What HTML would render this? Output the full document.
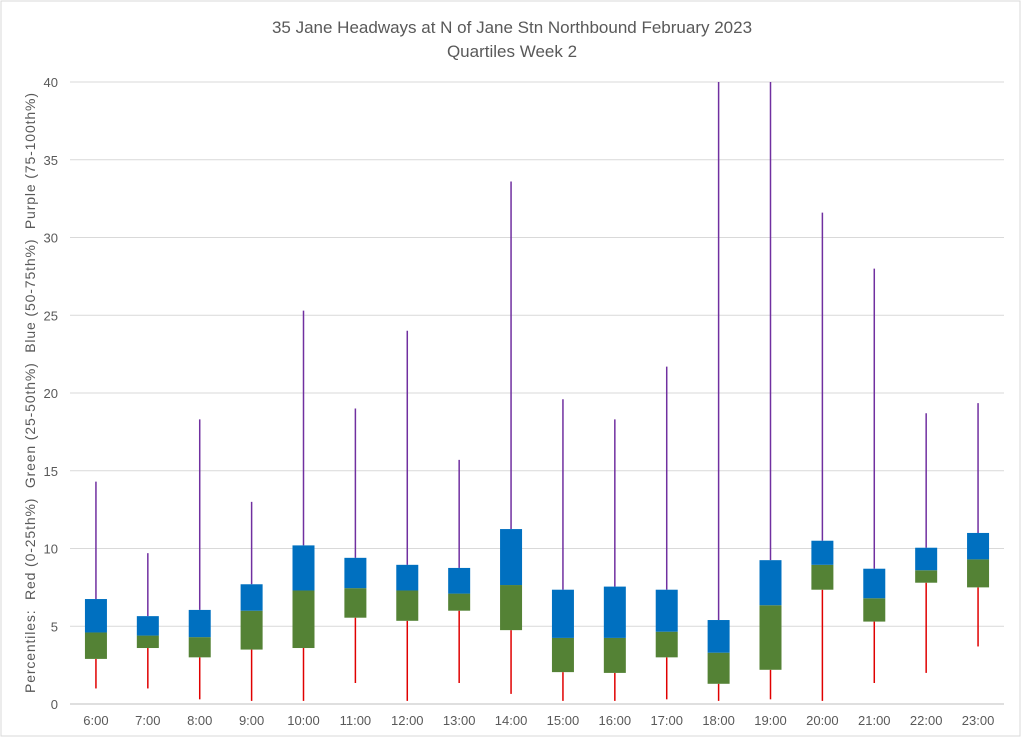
<!DOCTYPE html>
<html><head><meta charset="utf-8">
<style>
html,body{margin:0;padding:0;background:#fff;}
svg{display:block;font-family:"Liberation Sans",sans-serif;}
</style></head>
<body>
<svg id="chart" width="1024" height="740">
<rect x="1" y="1" width="1019" height="735" fill="#fff" stroke="#d9d9d9"/>
<text x="512" y="33" text-anchor="middle" font-size="17" fill="#595959">35 Jane Headways at N of Jane Stn Northbound February 2023</text>
<text x="512" y="57" text-anchor="middle" font-size="17" fill="#595959">Quartiles Week 2</text>
<text transform="translate(35,393) rotate(-90)" text-anchor="middle" font-size="14" fill="#595959" xml:space="preserve" textLength="600" lengthAdjust="spacing">Percentiles:  Red (0-25th%)  Green (25-50th%)  Blue (50-75th%)  Purple (75-100th%)</text>
<g id="grid"></g><g id="marks"></g><g id="labels"></g>
</svg>
<script>
const categories=["6:00","7:00","8:00","9:00","10:00","11:00","12:00","13:00","14:00","15:00","16:00","17:00","18:00","19:00","20:00","21:00","22:00","23:00"];
const minVals=[1.0,1.0,0.3,0.2,0.2,1.35,0.2,1.35,0.65,0.2,0.2,0.3,0.2,0.3,0.2,1.35,2.0,3.7];
const q1Vals=[2.9,3.6,3.0,3.5,3.6,5.55,5.35,6.0,4.75,2.05,2.0,3.0,1.3,2.2,7.35,5.3,7.8,7.5];
const medVals=[4.6,4.4,4.3,6.0,7.3,7.45,7.3,7.1,7.65,4.25,4.25,4.65,3.3,6.35,8.95,6.8,8.6,9.3];
const q3Vals=[6.75,5.65,6.05,7.7,10.2,9.4,8.95,8.75,11.25,7.35,7.55,7.35,5.4,9.25,10.5,8.7,10.05,11.0];
const maxVals=[14.3,9.7,18.3,13.0,25.3,19.0,24.0,15.7,33.6,19.6,18.3,21.7,45,45,31.6,28.0,18.7,19.35];
const yTicks=[0,5,10,15,20,25,30,35,40];
const NS="http://www.w3.org/2000/svg";
const x0=70,x1=1004,yB=704,yT=82,yMax=40;
const y=v=>yB-Math.min(v,yMax)/yMax*(yB-yT);
const step=(x1-x0)/categories.length;
const x=i=>x0+step*(i+0.5);
function mk(tag,attrs,parent){const e=document.createElementNS(NS,tag);for(const k in attrs)e.setAttribute(k,attrs[k]);parent.appendChild(e);return e;}
const grid=document.getElementById('grid'),marks=document.getElementById('marks'),labels=document.getElementById('labels');
yTicks.forEach(t=>{
  const l=mk('line',{x1:x0,x2:x1,y1:y(t),y2:y(t),stroke:t===0?'#bfbfbf':'#d9d9d9','stroke-width':1},grid);
  
  
  const tx=mk('text',{x:58,y:y(t)+5,'text-anchor':'end','font-size':13,fill:'#595959'},labels);
  tx.textContent=t;
  
  
});
const bw=22;
categories.forEach((c,i)=>{
  const cx=x(i);
  const lo=mk('line',{x1:cx,x2:cx,y1:y(minVals[i]),y2:y(q1Vals[i]),stroke:'#e00000','stroke-width':1.5},marks);
  
  
  const hi=mk('line',{x1:cx,x2:cx,y1:y(maxVals[i]),y2:y(q3Vals[i]),stroke:'#7030a0','stroke-width':1.5},marks);
  
  
  const g=mk('rect',{x:cx-bw/2,width:bw,y:y(medVals[i]),height:y(q1Vals[i])-y(medVals[i]),fill:'#548235'},marks);
  
  
  const b=mk('rect',{x:cx-bw/2,width:bw,y:y(q3Vals[i]),height:y(medVals[i])-y(q3Vals[i]),fill:'#0070c0'},marks);
  
  
  const tx=mk('text',{x:cx,y:725,'text-anchor':'middle','font-size':13,fill:'#595959'},labels);
  tx.textContent=c;
  
  
});
</script>
</body></html>
